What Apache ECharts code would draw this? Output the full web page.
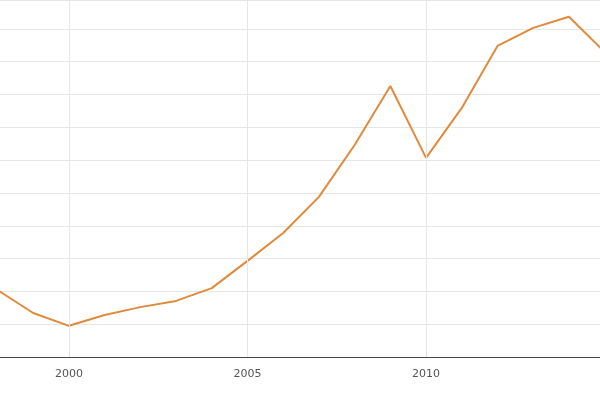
<!DOCTYPE html>
<html>
<head>
<meta charset="UTF-8">
<script src="https://cdn.jsdelivr.net/npm/echarts@6/dist/echarts.min.js"></script>
<style>html,body{margin:0;background:#fff}#c{width:600px;height:400px}</style>
</head>
<body>
<div id="c"></div>
<script>
const years = [1998, 1999, 2000, 2001, 2002, 2003, 2004, 2005, 2006, 2007, 2008, 2009, 2010, 2011, 2012, 2013, 2014, 2015]
const values = [2.04, 1.34, 0.95, 1.28, 1.52, 1.71, 2.10, 2.93, 3.78, 4.88, 6.46, 8.26, 6.07, 7.59, 9.48, 10.03, 10.37, 9.3]
const tickYears = [2000, 2005, 2010, 2015]

const chart = echarts.init(document.getElementById('c'))
chart.setOption({
  animation: false,
  grid: { left: 0, right: 0, top: 0, bottom: 43 },
  xAxis: {
    type: 'value', min: 1998.07, max: 2014.87,
    axisLine: { lineStyle: { color: '#444' } },
    axisTick: { show: false },
    axisLabel: { customValues: tickYears, color: '#555', fontSize: 11, fontFamily: 'DejaVu Sans', margin: 12, formatter: v => String(v) },
    splitLine: { show: false }
  },
  yAxis: {
    type: 'value', min: 0, max: 10.88, interval: 1,
    axisLabel: { show: false },
    axisLine: { show: false },
    axisTick: { show: false },
    splitLine: { lineStyle: { color: '#e6e6e6' } }
  },
  series: [{
    type: 'line',
    data: years.map((y, i) => [y, values[i]]),
    symbol: 'none',
    lineStyle: { color: '#e08a3c', width: 2 },
    markLine: {
      silent: true, symbol: 'none', label: { show: false },
      lineStyle: { color: '#e6e6e6', type: 'solid', width: 1 },
      data: tickYears.slice(0, 3).map(y => ({ xAxis: y }))
    }
  }]
})
</script>
</body>
</html>
